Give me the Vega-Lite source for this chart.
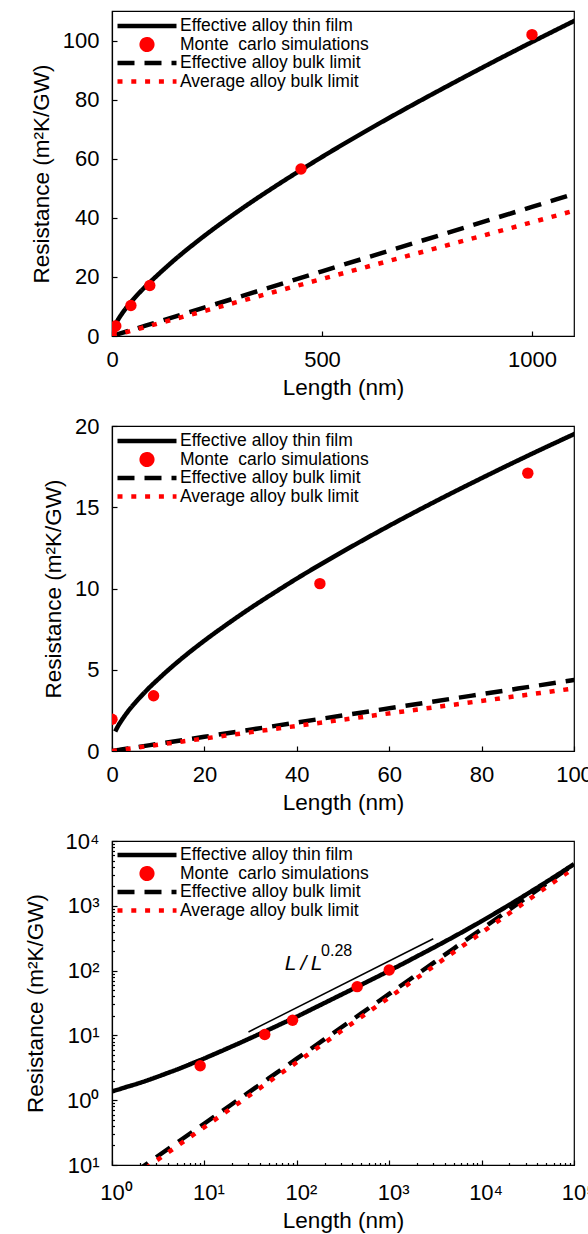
{
  "$schema": "https://vega.github.io/schema/vega-lite/v6.json",
  "background": "white",
  "padding": {"left": 23, "top": 10, "right": 0, "bottom": 0},
  "bounds": "flush",
  "spacing": 90,
  "resolve": {"scale": {"color": "independent", "strokeDash": "independent"}, "legend": {"color": "independent"}},
  "config": {
    "font": "Liberation Sans",
    "view": {"stroke": "#000000", "strokeWidth": 1.2},
    "axis": {
      "domainColor": "#000000", "domainWidth": 1.2, "tickColor": "#000000", "tickWidth": 1.2,
      "labelColor": "#000000", "titleColor": "#000000", "labelFont": "Liberation Sans", "titleFont": "Liberation Sans",
      "labelFontSize": 22, "titleFontSize": 22.5, "titleFontWeight": "normal",
      "grid": false, "tickSize": -5, "labelPadding": 18, "labelFlush": false, "labelOverlap": false
    },
    "axisY": {"titlePadding": 9},
    "axisX": {"titlePadding": 6},
    "legend": {
      "padding": 0, "labelFont": "Liberation Sans", "labelFontSize": 17.5, "labelColor": "#000000", "labelLimit": 400,
      "symbolSize": 3481, "symbolStrokeWidth": 4.5, "clipHeight": 16, "rowPadding": 0.5, "labelOffset": 1
    }
  },
  "datasets": {
    "curves": [
      {"series": "Effective alloy bulk limit", "L": 0, "R": 0},
      {"series": "Effective alloy bulk limit", "L": 1, "R": 0.0437},
      {"series": "Effective alloy bulk limit", "L": 2, "R": 0.0874},
      {"series": "Effective alloy bulk limit", "L": 5, "R": 0.219},
      {"series": "Effective alloy bulk limit", "L": 10, "R": 0.437},
      {"series": "Effective alloy bulk limit", "L": 20, "R": 0.874},
      {"series": "Effective alloy bulk limit", "L": 50, "R": 2.19},
      {"series": "Effective alloy bulk limit", "L": 100, "R": 4.37},
      {"series": "Effective alloy bulk limit", "L": 200, "R": 8.74},
      {"series": "Effective alloy bulk limit", "L": 500, "R": 21.9},
      {"series": "Effective alloy bulk limit", "L": 1000, "R": 43.7},
      {"series": "Effective alloy bulk limit", "L": 1100, "R": 48.1},
      {"series": "Effective alloy bulk limit", "L": 2000, "R": 87.4},
      {"series": "Effective alloy bulk limit", "L": 5000, "R": 219},
      {"series": "Effective alloy bulk limit", "L": 10000, "R": 437},
      {"series": "Effective alloy bulk limit", "L": 20000, "R": 874},
      {"series": "Effective alloy bulk limit", "L": 50000, "R": 2190},
      {"series": "Effective alloy bulk limit", "L": 100000, "R": 4370},
      {"series": "Average alloy bulk limit", "L": 0, "R": 0},
      {"series": "Average alloy bulk limit", "L": 1, "R": 0.0385},
      {"series": "Average alloy bulk limit", "L": 2, "R": 0.077},
      {"series": "Average alloy bulk limit", "L": 5, "R": 0.193},
      {"series": "Average alloy bulk limit", "L": 10, "R": 0.385},
      {"series": "Average alloy bulk limit", "L": 20, "R": 0.77},
      {"series": "Average alloy bulk limit", "L": 50, "R": 1.93},
      {"series": "Average alloy bulk limit", "L": 100, "R": 3.85},
      {"series": "Average alloy bulk limit", "L": 200, "R": 7.7},
      {"series": "Average alloy bulk limit", "L": 500, "R": 19.3},
      {"series": "Average alloy bulk limit", "L": 1000, "R": 38.5},
      {"series": "Average alloy bulk limit", "L": 1100, "R": 42.4},
      {"series": "Average alloy bulk limit", "L": 2000, "R": 77},
      {"series": "Average alloy bulk limit", "L": 5000, "R": 193},
      {"series": "Average alloy bulk limit", "L": 10000, "R": 385},
      {"series": "Average alloy bulk limit", "L": 20000, "R": 770},
      {"series": "Average alloy bulk limit", "L": 50000, "R": 1930},
      {"series": "Average alloy bulk limit", "L": 100000, "R": 3850},
      {"series": "Effective alloy thin film", "L": 0.7, "R": 1.2},
      {"series": "Effective alloy thin film", "L": 1, "R": 1.37},
      {"series": "Effective alloy thin film", "L": 1.5, "R": 1.63},
      {"series": "Effective alloy thin film", "L": 2, "R": 1.85},
      {"series": "Effective alloy thin film", "L": 3, "R": 2.26},
      {"series": "Effective alloy thin film", "L": 4, "R": 2.63},
      {"series": "Effective alloy thin film", "L": 5, "R": 2.96},
      {"series": "Effective alloy thin film", "L": 6, "R": 3.28},
      {"series": "Effective alloy thin film", "L": 8, "R": 3.88},
      {"series": "Effective alloy thin film", "L": 10, "R": 4.42},
      {"series": "Effective alloy thin film", "L": 12, "R": 4.94},
      {"series": "Effective alloy thin film", "L": 15, "R": 5.67},
      {"series": "Effective alloy thin film", "L": 20, "R": 6.79},
      {"series": "Effective alloy thin film", "L": 25, "R": 7.82},
      {"series": "Effective alloy thin film", "L": 30, "R": 8.8},
      {"series": "Effective alloy thin film", "L": 35, "R": 9.72},
      {"series": "Effective alloy thin film", "L": 40, "R": 10.61},
      {"series": "Effective alloy thin film", "L": 50, "R": 12.28},
      {"series": "Effective alloy thin film", "L": 60, "R": 13.86},
      {"series": "Effective alloy thin film", "L": 70, "R": 15.36},
      {"series": "Effective alloy thin film", "L": 80, "R": 16.79},
      {"series": "Effective alloy thin film", "L": 90, "R": 18.17},
      {"series": "Effective alloy thin film", "L": 100, "R": 19.5},
      {"series": "Effective alloy thin film", "L": 150, "R": 25.9},
      {"series": "Effective alloy thin film", "L": 200, "R": 31.7},
      {"series": "Effective alloy thin film", "L": 300, "R": 42.2},
      {"series": "Effective alloy thin film", "L": 400, "R": 51.7},
      {"series": "Effective alloy thin film", "L": 450, "R": 56.2},
      {"series": "Effective alloy thin film", "L": 500, "R": 60.6},
      {"series": "Effective alloy thin film", "L": 600, "R": 69.0},
      {"series": "Effective alloy thin film", "L": 700, "R": 77.0},
      {"series": "Effective alloy thin film", "L": 800, "R": 84.7},
      {"series": "Effective alloy thin film", "L": 900, "R": 92.2},
      {"series": "Effective alloy thin film", "L": 1000, "R": 99.5},
      {"series": "Effective alloy thin film", "L": 1100, "R": 106.6},
      {"series": "Effective alloy thin film", "L": 1500, "R": 133.8},
      {"series": "Effective alloy thin film", "L": 2000, "R": 166},
      {"series": "Effective alloy thin film", "L": 3000, "R": 225},
      {"series": "Effective alloy thin film", "L": 5000, "R": 333},
      {"series": "Effective alloy thin film", "L": 7000, "R": 434},
      {"series": "Effective alloy thin film", "L": 10000, "R": 580},
      {"series": "Effective alloy thin film", "L": 15000, "R": 812},
      {"series": "Effective alloy thin film", "L": 20000, "R": 1037},
      {"series": "Effective alloy thin film", "L": 30000, "R": 1476},
      {"series": "Effective alloy thin film", "L": 50000, "R": 2326},
      {"series": "Effective alloy thin film", "L": 70000, "R": 3159},
      {"series": "Effective alloy thin film", "L": 100000, "R": 4400}
    ],
    "mc": [
      {"series": "Monte\u00a0 carlo simulations", "L": 0, "R": 1.95},
      {"series": "Monte\u00a0 carlo simulations", "L": 9, "R": 3.4},
      {"series": "Monte\u00a0 carlo simulations", "L": 45, "R": 10.3},
      {"series": "Monte\u00a0 carlo simulations", "L": 90, "R": 17.1},
      {"series": "Monte\u00a0 carlo simulations", "L": 450, "R": 56.5},
      {"series": "Monte\u00a0 carlo simulations", "L": 1000, "R": 102}
    ],
    "slope": [
      {"L": 30, "R": 11.3},
      {"L": 3000, "R": 310}
    ],
    "annot": [
      {"L": 74, "R": 102.5, "t": "L\u2009/\u2009L"}
    ],
    "annotsup": [
      {"L": 183, "R": 170, "t": "0.28"}
    ]
  },
  "vconcat": [
    {
      "width": 462, "height": 325,
      "encoding": {
        "x": {"field": "L", "type": "quantitative", "scale": {"domain": [0, 1100], "nice": false, "zero": false}, "axis": {"values": [0, 500, 1000], "format": "d", "title": "Length (nm)"}},
        "y": {"field": "R", "type": "quantitative", "scale": {"domain": [0, 110], "nice": false, "zero": false}, "axis": {"values": [0, 20, 40, 60, 80, 100], "title": "Resistance (m²K/GW)"}}
      },
      "layer": [
        {
          "data": {"name": "curves"},
          "transform": [{"filter": "datum.L <= 2000"}],
          "mark": {"type": "line", "clip": true, "strokeWidth": 4.5, "interpolate": "monotone"},
          "encoding": {
            "color": {"field": "series", "type": "nominal",
              "scale": {"domain": ["Effective alloy thin film", "Monte\u00a0 carlo simulations", "Effective alloy bulk limit", "Average alloy bulk limit"], "range": ["#000000", "#ff0000", "#000000", "#ff0000"]},
              "legend": {"title": null, "orient": "none", "legendX": 3, "legendY": 7,
                "encode": {"symbols": {"update": {
                  "shape": {"signal": "datum.index == 1 ? 'M-0.18,0A0.18,0.18,0,1,1,0.18,0A0.18,0.18,0,1,1,-0.18,0Z' : 'stroke'"},
                  "fill": {"signal": "datum.index == 1 ? '#ff0000' : 'transparent'"},
                  "stroke": {"signal": "datum.index == 1 ? 'transparent' : (datum.index == 3 ? '#ff0000' : '#000000')"},
                  "strokeDash": {"signal": "datum.index == 2 ? [0,2.3,18.4,10,16.6,30] : (datum.index == 3 ? [0,2.35,4.5,8.9,4.5,8.8,4.5,9.8,4.5,30] : [1,0])"},
                  "opacity": {"value": 1}
                }}}}},
            "strokeDash": {"field": "series", "type": "nominal",
              "scale": {"domain": ["Effective alloy thin film", "Monte\u00a0 carlo simulations", "Effective alloy bulk limit", "Average alloy bulk limit"], "range": [[1, 0], [1, 0], [17, 10], [5, 8.8]]},
              "legend": null}
          }
        },
        {
          "data": {"name": "mc"},
          "mark": {"type": "point", "filled": true, "size": 130, "opacity": 1, "clip": true},
          "encoding": {
            "color": {"field": "series", "type": "nominal",
              "scale": {"domain": ["Effective alloy thin film", "Monte\u00a0 carlo simulations", "Effective alloy bulk limit", "Average alloy bulk limit"], "range": ["#000000", "#ff0000", "#000000", "#ff0000"]},
              "legend": null}
          }
        }
      ]
    },
    {
      "width": 462, "height": 325,
      "encoding": {
        "x": {"field": "L", "type": "quantitative", "scale": {"domain": [0, 100], "nice": false, "zero": false}, "axis": {"values": [0, 20, 40, 60, 80, 100], "title": "Length (nm)"}},
        "y": {"field": "R", "type": "quantitative", "scale": {"domain": [0, 20], "nice": false, "zero": false}, "axis": {"values": [0, 5, 10, 15, 20], "title": "Resistance (m²K/GW)"}}
      },
      "layer": [
        {
          "data": {"name": "curves"},
          "transform": [{"filter": "datum.L <= 200"}],
          "mark": {"type": "line", "clip": true, "strokeWidth": 4.5, "interpolate": "monotone"},
          "encoding": {
            "color": {"field": "series", "type": "nominal",
              "scale": {"domain": ["Effective alloy thin film", "Monte\u00a0 carlo simulations", "Effective alloy bulk limit", "Average alloy bulk limit"], "range": ["#000000", "#ff0000", "#000000", "#ff0000"]},
              "legend": {"title": null, "orient": "none", "legendX": 3, "legendY": 7,
                "encode": {"symbols": {"update": {
                  "shape": {"signal": "datum.index == 1 ? 'M-0.18,0A0.18,0.18,0,1,1,0.18,0A0.18,0.18,0,1,1,-0.18,0Z' : 'stroke'"},
                  "fill": {"signal": "datum.index == 1 ? '#ff0000' : 'transparent'"},
                  "stroke": {"signal": "datum.index == 1 ? 'transparent' : (datum.index == 3 ? '#ff0000' : '#000000')"},
                  "strokeDash": {"signal": "datum.index == 2 ? [0,2.3,18.4,10,16.6,30] : (datum.index == 3 ? [0,2.35,4.5,8.9,4.5,8.8,4.5,9.8,4.5,30] : [1,0])"},
                  "opacity": {"value": 1}
                }}}}},
            "strokeDash": {"field": "series", "type": "nominal",
              "scale": {"domain": ["Effective alloy thin film", "Monte\u00a0 carlo simulations", "Effective alloy bulk limit", "Average alloy bulk limit"], "range": [[1, 0], [1, 0], [17, 10], [5, 8.8]]},
              "legend": null}
          }
        },
        {
          "data": {"name": "mc"},
          "transform": [{"filter": "datum.L <= 200"}],
          "mark": {"type": "point", "filled": true, "size": 130, "opacity": 1, "clip": true},
          "encoding": {
            "color": {"field": "series", "type": "nominal",
              "scale": {"domain": ["Effective alloy thin film", "Monte\u00a0 carlo simulations", "Effective alloy bulk limit", "Average alloy bulk limit"], "range": ["#000000", "#ff0000", "#000000", "#ff0000"]},
              "legend": null}
          }
        }
      ]
    },
    {
      "width": 462, "height": 324,
      "encoding": {
        "x": {"field": "L", "type": "quantitative", "scale": {"type": "log", "domain": [1, 100000], "nice": false},
          "axis": {"title": "Length (nm)", "labelPadding": 22, "labelOffset": 4, "titlePadding": 4,
            "values": [1,2,3,4,5,6,7,8,9,10,20,30,40,50,60,70,80,90,100,200,300,400,500,600,700,800,900,1000,2000,3000,4000,5000,6000,7000,8000,9000,10000,20000,30000,40000,50000,60000,70000,80000,90000,100000],
            "labelExpr": "abs(log(datum.value)/LN10 - round(log(datum.value)/LN10)) < 0.001 ? '10' + ['⁰','¹','²','³','⁴','⁵'][round(log(datum.value)/LN10)] : ''",
            "tickSize": {"condition": {"test": "abs(log(datum.value)/LN10 - round(log(datum.value)/LN10)) < 0.001", "value": -5}, "value": -2.5}}},
        "y": {"field": "R", "type": "quantitative", "scale": {"type": "log", "domain": [0.1, 10000], "nice": false},
          "axis": {"title": "Resistance (m²K/GW)", "titlePadding": 18,
            "values": [0.1,0.2,0.3,0.4,0.5,0.6,0.7,0.8,0.9,1,2,3,4,5,6,7,8,9,10,20,30,40,50,60,70,80,90,100,200,300,400,500,600,700,800,900,1000,2000,3000,4000,5000,6000,7000,8000,9000,10000],
            "labelExpr": "abs(log(datum.value)/LN10 - round(log(datum.value)/LN10)) < 0.001 ? (datum.value < 0.5 ? '10¹' : '10' + ['⁰','¹','²','³','⁴','⁵'][round(log(datum.value)/LN10)]) : ''",
            "tickSize": {"condition": {"test": "abs(log(datum.value)/LN10 - round(log(datum.value)/LN10)) < 0.001", "value": -5}, "value": -2.5}}}
      },
      "layer": [
        {
          "data": {"name": "curves"},
          "transform": [{"filter": "datum.L > 0 && datum.R > 0"}],
          "mark": {"type": "line", "clip": true, "strokeWidth": 4.5, "interpolate": "monotone"},
          "encoding": {
            "color": {"field": "series", "type": "nominal",
              "scale": {"domain": ["Effective alloy thin film", "Monte\u00a0 carlo simulations", "Effective alloy bulk limit", "Average alloy bulk limit"], "range": ["#000000", "#ff0000", "#000000", "#ff0000"]},
              "legend": {"title": null, "orient": "none", "legendX": 3, "legendY": 6,
                "encode": {"symbols": {"update": {
                  "shape": {"signal": "datum.index == 1 ? 'M-0.18,0A0.18,0.18,0,1,1,0.18,0A0.18,0.18,0,1,1,-0.18,0Z' : 'stroke'"},
                  "fill": {"signal": "datum.index == 1 ? '#ff0000' : 'transparent'"},
                  "stroke": {"signal": "datum.index == 1 ? 'transparent' : (datum.index == 3 ? '#ff0000' : '#000000')"},
                  "strokeDash": {"signal": "datum.index == 2 ? [0,2.3,18.4,10,16.6,30] : (datum.index == 3 ? [0,2.35,4.5,8.9,4.5,8.8,4.5,9.8,4.5,30] : [1,0])"},
                  "opacity": {"value": 1}
                }}}}},
            "strokeDash": {"field": "series", "type": "nominal",
              "scale": {"domain": ["Effective alloy thin film", "Monte\u00a0 carlo simulations", "Effective alloy bulk limit", "Average alloy bulk limit"], "range": [[1, 0], [1, 0], [17, 10], [5, 8.8]]},
              "legend": null}
          }
        },
        {
          "data": {"name": "mc"},
          "transform": [{"filter": "datum.L > 0"}],
          "mark": {"type": "point", "filled": true, "size": 130, "opacity": 1, "clip": true},
          "encoding": {
            "color": {"field": "series", "type": "nominal",
              "scale": {"domain": ["Effective alloy thin film", "Monte\u00a0 carlo simulations", "Effective alloy bulk limit", "Average alloy bulk limit"], "range": ["#000000", "#ff0000", "#000000", "#ff0000"]},
              "legend": null}
          }
        },
        {
          "data": {"name": "slope"},
          "mark": {"type": "line", "color": "#000000", "strokeWidth": 1.5},
          "encoding": {}
        },
        {
          "data": {"name": "annot"},
          "mark": {"type": "text", "align": "left", "baseline": "alphabetic", "fontSize": 21, "fontStyle": "italic", "font": "Liberation Sans", "color": "#000000"},
          "encoding": {"text": {"field": "t"}}
        },
        {
          "data": {"name": "annotsup"},
          "mark": {"type": "text", "align": "left", "baseline": "alphabetic", "fontSize": 16, "font": "Liberation Sans", "color": "#000000"},
          "encoding": {"text": {"field": "t"}}
        }
      ]
    }
  ]
}
